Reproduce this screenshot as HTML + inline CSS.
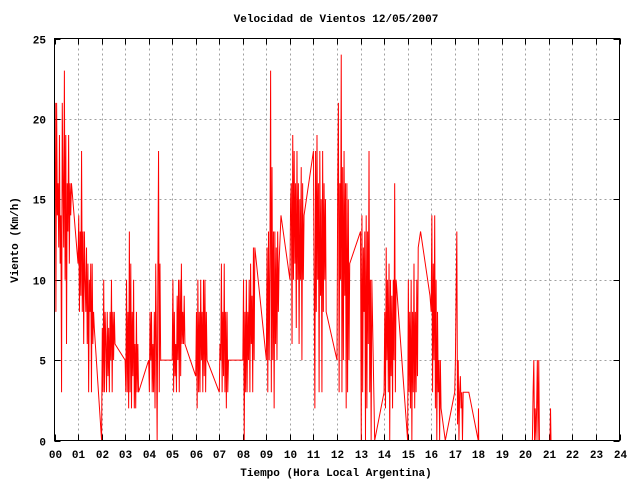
<!DOCTYPE html>
<html><head><meta charset="utf-8"><style>
html,body{margin:0;padding:0;background:#fff;}
svg{display:block;font-family:"Liberation Mono",monospace;font-weight:bold;}
</style></head><body>
<svg id="chart" width="640" height="480" viewBox="0 0 640 480" xmlns="http://www.w3.org/2000/svg">
<text x="336" y="22" font-size="11" text-anchor="middle">Velocidad de Vientos 12/05/2007</text>
<text transform="translate(18,240) rotate(-90)" font-size="11" text-anchor="middle">Viento (Km/h)</text>
<text x="336" y="476" font-size="11" text-anchor="middle">Tiempo (Hora Local Argentina)</text>
<g id="grid"></g>
<g id="ticks"></g>
<path id="series" fill="none" stroke="#ff0000" stroke-width="1"/>
<rect x="54.5" y="38.5" width="565" height="402" fill="none" stroke="#000" stroke-width="1"/>
</svg>
<script>
const xTicks = ["00","01","02","03","04","05","06","07","08","09","10","11","12","13","14","15","16","17","18","19","20","21","22","23","24"];
const yTicks = [0,5,10,15,20,25];
const sampleStep = 0.03;
const burstStart = [0.0,1.0,2.0,3.0,4.0,5.0,6.0,7.0,8.0,9.0,10.0,11.0,12.0,13.0,14.0,15.0,16.0,17.0,20.3];
const burstValues = [
[16,21,8,21,14,16,12,19,11,14,3,21,16,12,23,10,19,6,16,13,19,11,16,14],
[11,14,8,13,9,18,8,13,6,13,10,8,12,6,11,3,10,8,11,3,11,6,8,7],
[0,7,3,10,3,8,6,3,8,4,7,3,8,5,10,3,8,5,8,6],
[5,3,10,3,8,2,13,3,11,2,8,4,10,2,6,2,8,3,6,3],
[5,3,8,5,8,3,6,3,8,2,11,6,0,10,18,3,11,5,5],
[5,10,3,8,4,6,3,9,5,10,3,10,4,11,6,8,6,9,6],
[4,8,2,10,3,8,3,10,5,8,3,10,4,10,3,8,5],
[3,6,5,11,3,8,4,11,3,8,2,8,3,5],
[5,10,0,8,3,10,3,8,5,10,3,11,6,9,3,12,5,12],
[5,12,3,13,5,11,23,3,17,5,13,2,13,6,12,5,13,8,11],
[10,15,16,6,19,10,18,11,16,7,18,10,16,6,15,10,17,5,16,10,14],
[18,10,2,18,8,19,10,16,3,18,9,15,3,18,8,16,10,15,8],
[5,16,21,3,16,10,24,3,17,5,18,9,16,2,16,3,15,5,11],
[13,0,14,3,12,8,13,0,14,2,13,6,18,3,10,0,10],
[3,8,2,12,5,10,3,11,0,10,4,9,2,10,5,16,3,10],
[0,10,3,8,2,10,0,8,3,11,2,8,3,10,4,12],
[8,14,3,11,5,14,2,10,0,8,3,5,0,5,2],
[3,5,9,13,1,5,0,3,4,2,3,0,3],
[0,3,5,0,2,0,2,5,0,5]
];
const gapTimes = [0.72,7.98,9.62,13.6,15.55,15.95,16.6,17.6,18.0,18.01,18.02,20.29,20.6,21.05,21.07,21.09];
const gapValues = [16,5,14,0,13,9,0,3,0,2,0,0,0,0,2,0];

const X0=54.5, X1=619.5, Y0=440.5, Y1=38.5;
const xScale = t => X0 + (X1-X0)*t/24;
const yScale = v => Y0 - (Y0-Y1)*v/25;
const NS="http://www.w3.org/2000/svg";
const grid=document.getElementById('grid'), ticks=document.getElementById('ticks');
function line(parent,x1,y1,x2,y2,stroke,dash){
  const l=document.createElementNS(NS,'line');
  l.setAttribute('x1',x1);l.setAttribute('y1',y1);l.setAttribute('x2',x2);l.setAttribute('y2',y2);
  l.setAttribute('stroke',stroke);if(dash)l.setAttribute('stroke-dasharray',dash);
  parent.appendChild(l);return l;
}
xTicks.forEach((lab,i)=>{
  const x=Math.round(xScale(i))+0.5;
  if(i>0&&i<24){
    const g=line(grid,x,Y1,x,Y0,'#a0a0a0','2,3');
    
    
  }
  const tb=line(ticks,x,Y0,x,Y0-6,'#000');
  
  
  const tt=line(ticks,x,Y1,x,Y1+6,'#000');
  
  
  const t=document.createElementNS(NS,'text');
  t.setAttribute('x',x);t.setAttribute('y',458);t.setAttribute('font-size','11');t.setAttribute('text-anchor','middle');
  t.textContent=lab;
  
  
  ticks.appendChild(t);
});
yTicks.forEach(v=>{
  const y=Math.round(yScale(v))+0.5;
  if(v>0&&v<25){
    const g=line(grid,X0,y,X1,y,'#a0a0a0','2,3');
    
    
  }
  const a=line(ticks,X0,y,X0+6,y,'#000');
  
  
  const b=line(ticks,X1,y,X1-6,y,'#000');
  
  
  const t=document.createElementNS(NS,'text');
  t.setAttribute('x',46);t.setAttribute('y',y+4);t.setAttribute('font-size','11');t.setAttribute('text-anchor','end');
  t.textContent=v;
  
  
  ticks.appendChild(t);
});
const pts=[];
burstStart.forEach((s,i)=>burstValues[i].forEach((v,j)=>pts.push([s+j*sampleStep,v])));
gapTimes.forEach((t,i)=>pts.push([t,gapValues[i]]));
pts.sort((a,b)=>a[0]-b[0]);
document.getElementById('series').setAttribute('d',pts.map((p,i)=>(i?'L':'M')+xScale(p[0]).toFixed(2)+','+yScale(p[1]).toFixed(2)).join(''));
</script>
</body></html>
